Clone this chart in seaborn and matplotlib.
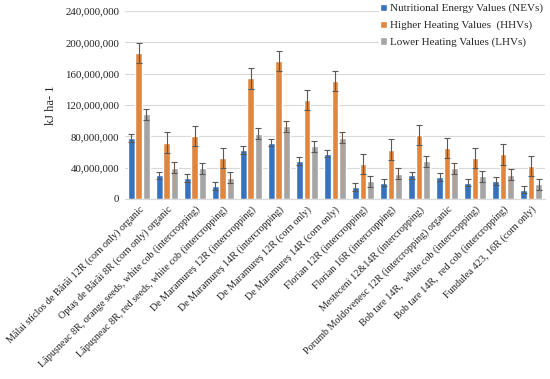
import numpy as np
import pandas as pd
import matplotlib
matplotlib.use("Agg")
import matplotlib.pyplot as plt
import seaborn as sns

# categories (hybrids / sowing variants)
varieties = [
    "Mălai sticlos de Bărăi 12R (corn only) organic",
    "Optaș de Bărăi 8R (corn only) organic",
    "Lăpușneac 8R, orange seeds, white cob (intercropping)",
    "Lăpușneac 8R, red seeds, white cob (intercropping)",
    "De Maramureș 12R (intercropping)",
    "De Maramureș 14R (intercropping)",
    "De Maramureș 12R (corn only)",
    "De Maramureș 14R (corn only)",
    "Florian 12R (intercropping)",
    "Florian 16R (intercropping)",
    "Mesteceni 12&14R (intercropping)",
    "Porumb Moldovenesc 12R (intercropping) organic",
    "Bob tare 14R,  white cob (intercropping)",
    "Bob tare 14R,  red cob (intercropping)",
    "Fundulea 423, 16R (corn only)",
]

series_names = [
    "Nutritional Energy Values (NEVs)",
    "Higher Heating Values  (HHVs)",
    "Lower Heating Values (LHVs)",
]

# values in kJ/ha
nev = [78e6, 30e6, 27e6, 17e6, 63e6, 72e6, 48e6, 58e6, 15e6, 21e6, 30e6, 28.5e6, 21e6, 23e6, 12e6]
hhv = [186e6, 72e6, 80e6, 52e6, 154e6, 176e6, 126e6, 151e6, 45e6, 63e6, 82e6, 65e6, 52e6, 57e6, 42e6]
lhv = [108e6, 40e6, 39e6, 27e6, 83e6, 93e6, 67e6, 78e6, 22.5e6, 32e6, 48e6, 39e6, 29e6, 31e6, 19e6]

nev_err = [5e6] * 15
hhv_err = [13e6] * 15
lhv_err = [7e6] * 15

colors = ["#1F70D4", "#F98427", "#A5A5A5"]

df = pd.DataFrame({
    "variety": varieties * 3,
    "series": np.repeat(series_names, len(varieties)),
    "value": nev + hhv + lhv,
})

sns.set_style("white")
plt.rcParams["font.family"] = ["Liberation Serif", "DejaVu Serif"]

fig = plt.figure(figsize=(5.5, 3.79), dpi=100)
ax = fig.add_axes([0.227, 0.475, 0.764, 0.496])

sns.barplot(data=df, x="variety", y="value", hue="series", palette=colors,
            width=0.8, gap=0.08, errorbar=None, ax=ax, zorder=2)

errs = [nev_err, hhv_err, lhv_err]
vals = [nev, hhv, lhv]
for cont, e, v in zip(ax.containers, errs, vals):
    xs = [p.get_x() + p.get_width() / 2 for p in cont.patches]
    ax.errorbar(xs, v, yerr=e, fmt="none", ecolor="#595959", elinewidth=0.8,
                capsize=2, capthick=0.8, zorder=3)

ax.set_ylim(0, 240e6)
ax.set_xlim(-0.5, len(varieties) - 0.5)
ax.set_yticks(np.arange(0, 240e6 + 1, 40e6))
ax.yaxis.set_major_formatter(matplotlib.ticker.FuncFormatter(lambda v, p: f"{int(v):,}"))
ax.grid(axis="y", color="#D9D9D9", linewidth=0.8, zorder=0)
ax.set_axisbelow(True)
for s in ["top", "right", "left"]:
    ax.spines[s].set_visible(False)
ax.spines["bottom"].set_color("#D9D9D9")
ax.tick_params(axis="y", length=0, labelsize=7.8, colors="#222222", pad=4)
ax.tick_params(axis="x", length=0, labelsize=7.3, colors="#222222", pad=4)
ax.set_xlabel("")
ax.set_ylabel("kJ ha- 1", fontsize=9, labelpad=6)
ax.set_xticks(range(len(varieties)))
ax.set_xticklabels(varieties, rotation=45, ha="right", rotation_mode="anchor")

ax.legend(loc="upper left", bbox_to_anchor=(0.605, 1.045), frameon=True,
          framealpha=1, edgecolor="white", fontsize=8, handlelength=0.6,
          handleheight=0.6, handletextpad=0.3, labelspacing=0.65,
          borderpad=0.1, borderaxespad=0)

fig.savefig("out.png", dpi=100)
